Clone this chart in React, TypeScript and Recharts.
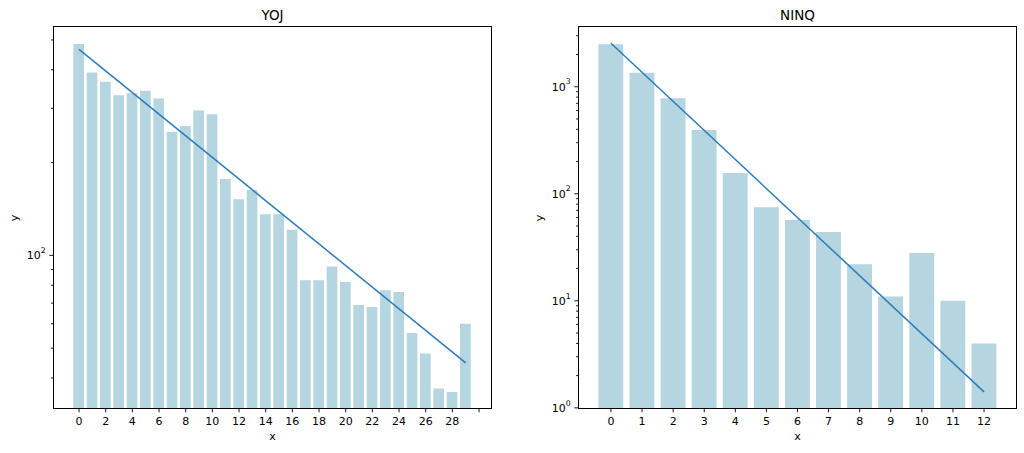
import React from 'react'
import { ComposedChart, Bar, Line, XAxis, YAxis } from 'recharts'

// YOJ panel
const yojX = [0, 1, 2, 3, 4, 5, 6, 7, 8, 9, 10, 11, 12, 13, 14, 15, 16, 17, 18, 19, 20, 21, 22, 23, 24, 25, 26, 27, 28, 29]
const yojCounts = [485, 392, 366, 331, 336, 342, 323, 252, 263, 295, 287, 177, 152, 163, 136, 136, 121, 83, 83, 92, 82, 69, 68, 77, 76, 56, 48, 37, 36, 60]
const yojFit = [466, null, null, null, null, null, null, null, null, null, null, null, null, null, null, null, null, null, null, null, null, null, null, null, null, null, null, null, null, 44.8]
const yojXTicks = [0, 2, 4, 6, 8, 10, 12, 14, 16, 18, 20, 22, 24, 26, 28, 30]
const yojXLabels = ['0', '2', '4', '6', '8', '10', '12', '14', '16', '18', '20', '22', '24', '26', '28', '']
const yojYTicks = [40, 50, 60, 70, 80, 90, 100, 200, 300, 400, 500]
const yojYMajor = [100]

// NINQ panel
const ninqX = [0, 1, 2, 3, 4, 5, 6, 7, 8, 9, 10, 11, 12]
const ninqCounts = [2500, 1350, 780, 394, 156, 75, 57, 44, 22, 11, 28, 10, 4]
const ninqFit = [2546, null, null, null, null, null, null, null, null, null, null, null, 1.41]
const ninqXTicks = [0, 1, 2, 3, 4, 5, 6, 7, 8, 9, 10, 11, 12]
const ninqXLabels = ['0', '1', '2', '3', '4', '5', '6', '7', '8', '9', '10', '11', '12']
const ninqYTicks = [1, 2, 3, 4, 5, 6, 7, 8, 9, 10, 20, 30, 40, 50, 60, 70, 80, 90, 100, 200, 300, 400, 500, 600, 700, 800, 900, 1000, 2000, 3000]
const ninqYMajor = [1, 10, 100, 1000]

const BAR = '#b5d5e0'
const LINE = '#2b7cbb'
const INK = '#000'
const FONT = '"DejaVu Sans", sans-serif'
const TICK_FS = 11

function LogTick(props: any) {
  const { x, y, payload, majors } = props
  const v = payload.value
  const major = majors.includes(v)
  const exp = Math.round(Math.log10(v))
  return (
    <g>
      <line x1={x} x2={x - (major ? 4 : 2.2)} y1={y} y2={y} stroke={INK} strokeWidth={0.9} />
      {major && (
        <text x={x - 7.5} y={y} textAnchor="end" fontSize={TICK_FS} fill={INK} fontFamily={FONT}>
          <tspan dy="0.36em">10</tspan>
          <tspan fontSize={7.8} dy="-0.8em">{exp}</tspan>
        </text>
      )}
    </g>
  )
}

type PanelProps = {
  title: string
  xs: number[]
  counts: number[]
  fit: (number | null)[]
  xTicks: number[]
  xLabels: string[]
  xDomain: [number, number]
  yTicks: number[]
  yMajor: number[]
  yDomain: [number, number]
  left: number
  width: number
  plotLeft: number
  plotRight: number
}

const TOP = 26.7
const BOTTOM = 408.3
const H = 453
const XAXIS_H = 30
const YAXIS_W = 40

function Panel(p: PanelProps) {
  const rows = p.xs.map((x, i) => ({ x, count: p.counts[i], fit: p.fit[i] }))
  const plotW = p.plotRight - p.plotLeft
  const barSize = (plotW / (p.xDomain[1] - p.xDomain[0])) * 0.8
  const labelFor = (v: number) => p.xLabels[p.xTicks.indexOf(v)] ?? ''
  return (
    <div style={{ position: 'absolute', left: p.left, top: 0, width: p.width, height: H }}>
      <ComposedChart
        width={p.width}
        height={H}
        data={rows}
        margin={{ top: TOP, right: p.width - p.plotRight, bottom: H - BOTTOM - XAXIS_H, left: p.plotLeft - YAXIS_W }}
      >
        <XAxis
          dataKey="x"
          type="number"
          domain={p.xDomain}
          allowDataOverflow
          ticks={p.xTicks}
          interval={0}
          tickFormatter={labelFor}
          height={XAXIS_H}
          axisLine={false}
          tickSize={4}
          tickMargin={5}
          tickLine={{ stroke: INK, strokeWidth: 0.9 }}
          tick={{ fontSize: TICK_FS, fill: INK, fontFamily: FONT }}
        />
        <YAxis
          type="number"
          scale="log"
          domain={p.yDomain}
          allowDataOverflow
          ticks={p.yTicks}
          interval={0}
          width={YAXIS_W}
          axisLine={false}
          tickLine={false}
          tickSize={0}
          tickMargin={0}
          tick={<LogTick majors={p.yMajor} />}
        />
        <Bar dataKey="count" fill={BAR} barSize={barSize} isAnimationActive={false} />
        <Line type="linear" dataKey="fit" stroke={LINE} strokeWidth={1.5} dot={false} connectNulls isAnimationActive={false} />
      </ComposedChart>
      <div
        style={{
          position: 'absolute', left: p.plotLeft - 0.5, top: TOP - 0.5, width: plotW + 1, height: BOTTOM - TOP + 1,
          border: `1px solid ${INK}`, boxSizing: 'border-box', pointerEvents: 'none',
        }}
      />
      <div
        style={{
          position: 'absolute', left: p.plotLeft, width: plotW, top: 8.5, textAlign: 'center',
          fontSize: 13.5, lineHeight: '13.5px', color: INK, fontFamily: FONT,
        }}
      >
        {p.title}
      </div>
      <div
        style={{
          position: 'absolute', left: p.plotLeft, width: plotW, top: 430.5, textAlign: 'center',
          fontSize: TICK_FS, lineHeight: `${TICK_FS}px`, color: INK, fontFamily: FONT,
        }}
      >
        x
      </div>
      <div
        style={{
          position: 'absolute', left: p.plotLeft - 39.5, top: (TOP + BOTTOM) / 2,
          transform: 'translate(-50%, -50%) rotate(-90deg)',
          fontSize: TICK_FS, lineHeight: `${TICK_FS}px`, color: INK, fontFamily: FONT,
        }}
      >
        y
      </div>
    </div>
  )
}

export default function App() {
  return (
    <div style={{ position: 'absolute', left: 0, top: 0, width: 1024, height: H, background: '#fff', overflow: 'hidden' }}>
      <Panel
        title="YOJ"
        xs={yojX}
        counts={yojCounts}
        fit={yojFit}
        xTicks={yojXTicks}
        xLabels={yojXLabels}
        xDomain={[-1.93, 30.95]}
        yTicks={yojYTicks}
        yMajor={yojYMajor}
        yDomain={[31.9, 552]}
        left={0}
        width={500}
        plotLeft={53.3}
        plotRight={491.7}
      />
      <Panel
        title="NINQ"
        xs={ninqX}
        counts={ninqCounts}
        fit={ninqFit}
        xTicks={ninqXTicks}
        xLabels={ninqXLabels}
        xDomain={[-1.05, 13.05]}
        yTicks={ninqYTicks}
        yMajor={ninqYMajor}
        yDomain={[0.99, 3640]}
        left={520}
        width={504}
        plotLeft={58.3}
        plotRight={496.7}
      />
    </div>
  )
}
